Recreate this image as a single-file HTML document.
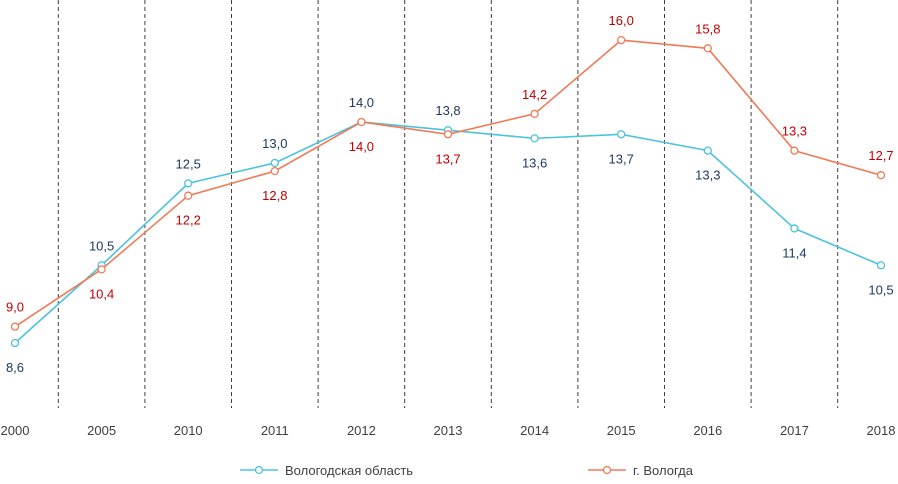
<!DOCTYPE html>
<html><head><meta charset="utf-8">
<style>
body{margin:0;background:#fff;font-family:"Liberation Sans","DejaVu Sans",sans-serif;}
svg text{font-family:"Liberation Sans","DejaVu Sans",sans-serif;}
</style></head>
<body>
<svg id="chart" width="898" height="479" xmlns="http://www.w3.org/2000/svg"></svg>
<script>
const categories=["2000","2005","2010","2011","2012","2013","2014","2015","2016","2017","2018"];
const regionValues=[8.6,10.5,12.5,13.0,14.0,13.8,13.6,13.7,13.3,11.4,10.5];
const cityValues=[9.0,10.4,12.2,12.8,14.0,13.7,14.2,16.0,15.8,13.3,12.7];
const regionLabelPos=[1,-1,-1,-1,-1,-1,1,1,1,1,1];
const cityLabelPos=[-1,1,1,1,1,1,-1,-1,-1,-1,-1];
const seriesNames=["Вологодская область","г. Вологда"];

const svg=document.getElementById('chart');
const NS='http://www.w3.org/2000/svg';
const x0=15,step=86.6;
function xPos(i){return x0+i*step;}
function yPos(v){return 122+(14-v)*40.93;}
function mk(tag,attrs){const e=document.createElementNS(NS,tag);for(const k in attrs)e.setAttribute(k,attrs[k]);svg.appendChild(e);return e;}

for(let i=0;i<categories.length-1;i++){
  const gx=(xPos(i)+xPos(i+1))/2;
  const l=mk('line',{x1:gx,x2:gx,y1:0,y2:408,stroke:'#404040','stroke-width':1,'stroke-dasharray':'4,3'});
  
  
}
categories.forEach((c,i)=>{
  const t=mk('text',{x:xPos(i),y:435,'text-anchor':'middle','font-size':13,fill:'#404040'});
  t.textContent=c;
  
  
});

function drawSeries(vals,pos,color,labelColor,name){
  const pts=vals.map((v,i)=>xPos(i)+','+yPos(v)).join(' ');
  const pl=mk('polyline',{points:pts,fill:'none',stroke:color,'stroke-width':1.6});
  
  
  vals.forEach((v,i)=>{
    const c=mk('circle',{cx:xPos(i),cy:yPos(v),r:3.5,fill:'#fff',stroke:color,'stroke-width':1.3});
    
    
    const ty=pos[i]<0?yPos(v)-15:yPos(v)+29;
    const t=mk('text',{x:xPos(i),y:ty,'text-anchor':'middle','font-size':13,fill:labelColor});
    t.textContent=v.toFixed(1).replace('.',',');
    
    
  });
}
drawSeries(regionValues,regionLabelPos,'#4cc3dd','#1f3864','region');
drawSeries(cityValues,cityLabelPos,'#f07a57','#c00000','city');

function legend(x,color,label,name){
  const l=mk('line',{x1:x,x2:x+38,y1:470,y2:470,stroke:color,'stroke-width':1.6});
  
  
  const c=mk('circle',{cx:x+19,cy:470,r:3.5,fill:'#fff',stroke:color,'stroke-width':1.3});
  
  
  const t=mk('text',{x:x+45,y:475,'font-size':13,fill:'#404040'});
  t.textContent=label;
  
  
}
legend(240,'#4cc3dd',seriesNames[0],'region');
legend(588,'#f07a57',seriesNames[1],'city');
</script>
</body></html>
